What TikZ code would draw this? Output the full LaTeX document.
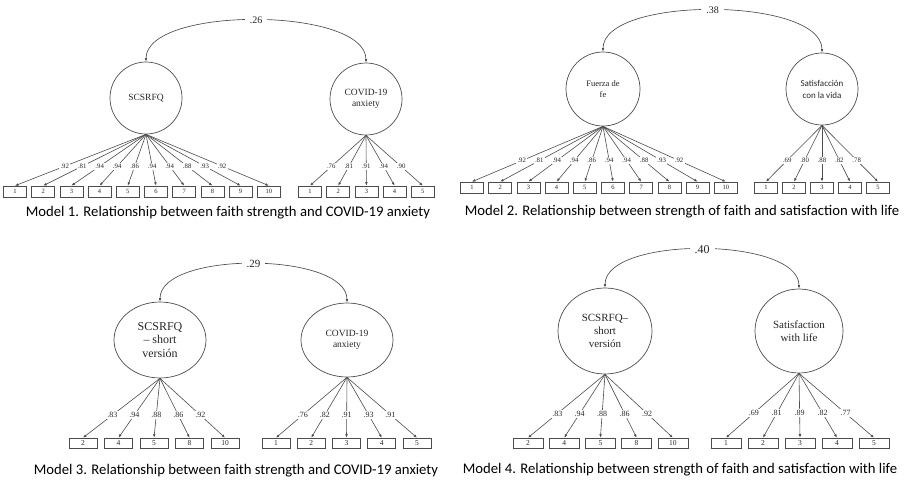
\documentclass[tikz,border=0pt]{standalone}
\usepackage{fontspec}
\setmainfont{Liberation Serif}
\newfontfamily\capfont{Carlito}
\usetikzlibrary{arrows.meta, shapes.geometric}
\tikzset{
  lat/.style={
    ellipse, draw=black!70, line width=0.7pt,
    minimum width=72pt, minimum height=72pt,
    align=center, inner sep=0pt, text=black!85,
    font=\fontsize{9.5}{11.5}\selectfont
  },
  ind/.style={
    rectangle, draw=black!70, line width=0.6pt,
    minimum width=23pt, minimum height=11pt, inner sep=0pt,
    text=black!85, font=\fontsize{6.5}{7}\selectfont
  },
  ld/.style  = {-{Latex[length=3.5pt, width=2.6pt]}, draw=black!70, line width=0.6pt},
  cov/.style = {{Latex[length=3.5pt, width=2.6pt]}-{Latex[length=3.5pt, width=2.6pt]}, draw=black!70, line width=0.65pt},
  lbl/.style = {fill=white, inner sep=1.2pt, text=black!85, font=\fontsize{6.8}{7}\selectfont},
  rho/.style = {fill=white, inner xsep=5pt, inner ysep=1pt, text=black!85, font=\fontsize{10}{11}\selectfont},
  capt/.style = {text=black, font=\capfont\fontsize{14.7}{16}\selectfont},
}

\begin{document}
\begin{tikzpicture}[x=1pt, y=-1pt]
\useasboundingbox (0,0) rectangle (907,480);

%% ── Model 1: SCSRFQ | COVID-19 anxiety ──────────────────────────────────────
\node[lat] (F1) at (146, 98) {SCSRFQ};
\node[lat] (A1) at (366, 99) {COVID-19\\anxiety};

\foreach \v [count=\i] in {.92,.81,.94,.94,.86,.94,.94,.88,.93,.92} {
  \node[ind] (F1x\i) at ({15+28.2*(\i-1)}, 191.5) {\i};
  \draw[ld] (F1.south) -- node[lbl, pos=0.62]{\v} (F1x\i.north);
}
\foreach \v [count=\i] in {.76,.81,.91,.94,.90} {
  \node[ind] (A1x\i) at ({310+28.2*(\i-1)}, 191.5) {\i};
  \draw[ld] (A1.south) -- node[lbl, pos=0.62]{\v} (A1x\i.north);
}

\draw[cov] (F1.north) .. controls +(0,-56) and +(0,-56) .. (A1.north)
    node[rho, pos=0.5]{.26};
\node[capt] (C1) at (228, 213) {Model 1. Relationship between faith strength and COVID-19 anxiety};

%% ── Model 2: Fuerza de fe | Satisfacción con la vida ────────────────────────
\node[lat, minimum width=74pt, minimum height=74pt, font=\fontsize{8.5}{11}\selectfont] (F2) at (603, 89) {Fuerza de\\fe};
\node[lat, font=\capfont\fontsize{9}{12}\selectfont] (A2) at (822, 89) {Satisfacción\\con la vida};

\foreach \v [count=\i] in {.92,.81,.94,.94,.86,.94,.94,.88,.93,.92} {
  \node[ind] (F2x\i) at ({472+28.2*(\i-1)}, 187.5) {\i};
  \draw[ld] (F2.south) -- node[lbl, pos=0.62]{\v} (F2x\i.north);
}
\foreach \v [count=\i] in {.69,.80,.88,.82,.78} {
  \node[ind] (A2x\i) at ({766+28*(\i-1)}, 187.5) {\i};
  \draw[ld] (A2.south) -- node[lbl, pos=0.62]{\v} (A2x\i.north);
}

\draw[cov] (F2.north) .. controls +(0,-56) and +(0,-56) .. (A2.north)
    node[rho, pos=0.5]{.38};
\node[capt] (C2) at (682, 212) {Model 2. Relationship between strength of faith and satisfaction with life};

%% ── Model 3: SCSRFQ short | COVID-19 anxiety ────────────────────────────────
\node[lat, minimum width=92pt, minimum height=76pt, font=\fontsize{12}{13.5}\selectfont] (F3) at (160, 340) {SCSRFQ\\– short\\versión};
\node[lat, minimum width=92pt, minimum height=74pt] (A3) at (347, 340) {COVID-19\\anxiety};

\foreach \n/\v [count=\i] in {2/.83,4/.94,5/.88,8/.86,10/.92} {
  \node[ind, minimum width=28pt, minimum height=10pt, font=\fontsize{7.5}{8}\selectfont] (F3x\i) at ({83+35.5*(\i-1)}, 443) {\n};
  \draw[ld] (F3.south) -- node[lbl, pos=0.62, font=\fontsize{8}{9}\selectfont]{\v} (F3x\i.north);
}
\foreach \v [count=\i] in {.76,.82,.91,.93,.91} {
  \node[ind, minimum width=28pt, minimum height=10pt, font=\fontsize{7.5}{8}\selectfont] (A3x\i) at ({276+35.25*(\i-1)}, 443) {\i};
  \draw[ld] (A3.south) -- node[lbl, pos=0.62, font=\fontsize{8}{9}\selectfont]{\v} (A3x\i.north);
}

\draw[cov] (F3.north) .. controls +(0,-51) and +(0,-51) .. (A3.north)
    node[rho, pos=0.5, font=\fontsize{11}{12}\selectfont]{.29};
\node[capt] (C3) at (236, 471) {Model 3. Relationship between faith strength and COVID-19 anxiety};

%% ── Model 4: SCSRFQ short | Satisfaction with life ──────────────────────────
\node[lat, minimum width=94pt, minimum height=86pt, font=\fontsize{11}{13}\selectfont] (F4) at (605, 331) {SCSRFQ–\\short\\versión};
\node[lat, minimum width=88pt, minimum height=84pt, font=\fontsize{11}{13}\selectfont] (A4) at (799, 331) {Satisfaction\\with life};

\foreach \n/\v [count=\i] in {2/.83,4/.94,5/.88,8/.86,10/.92} {
  \node[ind, minimum width=30pt, minimum height=10pt, font=\fontsize{7.5}{8}\selectfont] (F4x\i) at ({528+36.2*(\i-1)}, 443) {\n};
  \draw[ld] (F4.south) -- node[lbl, pos=0.62, font=\fontsize{8}{9}\selectfont]{\v} (F4x\i.north);
}
\foreach \v [count=\i] in {.69,.81,.89,.82,.77} {
  \node[ind, minimum width=30pt, minimum height=10pt, font=\fontsize{7.5}{8}\selectfont] (A4x\i) at ({726+37*(\i-1)}, 443) {\i};
  \draw[ld] (A4.south) -- node[lbl, pos=0.62, font=\fontsize{8}{9}\selectfont]{\v} (A4x\i.north);
}

\draw[cov] (F4.north) .. controls +(0,-52) and +(0,-52) .. (A4.north)
    node[rho, pos=0.5, font=\fontsize{12}{13}\selectfont]{.40};
\node[capt] (C4) at (680, 470) {Model 4. Relationship between strength of faith and satisfaction with life};

\end{tikzpicture}
\end{document}
